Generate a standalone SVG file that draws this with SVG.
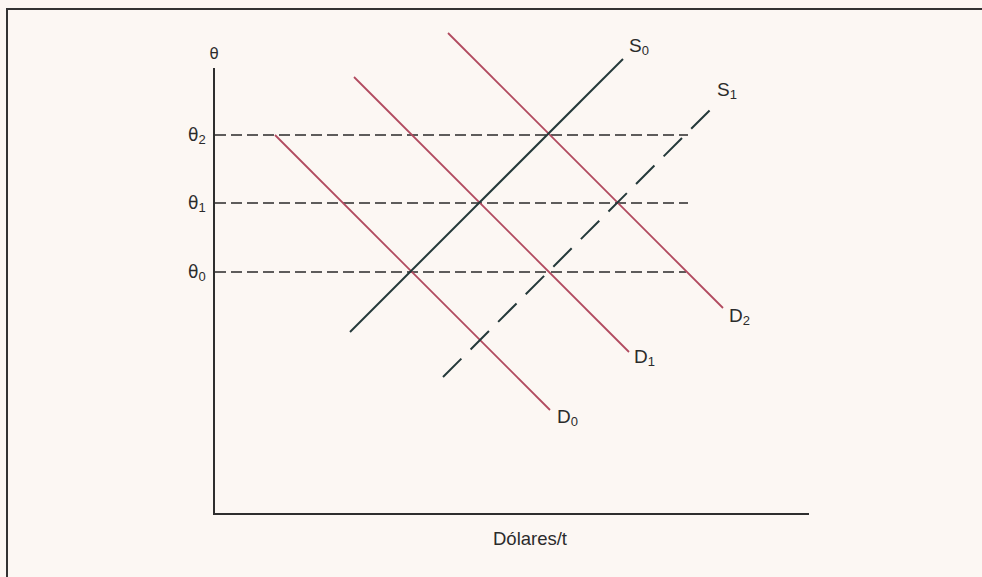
<svg xmlns="http://www.w3.org/2000/svg" width="982" height="577" viewBox="0 0 982 577">
<style>
.lbl{font-family:"Liberation Sans",Arial,sans-serif;font-size:19px;fill:#2b2b2b}
.th{font-family:"DejaVu Sans",sans-serif;font-size:17px;fill:#2b2b2b}
.sub{font-family:"Liberation Sans",Arial,sans-serif;font-size:13px}
.d{stroke:#b14a5f;stroke-width:1.8;fill:none}
.s{stroke:#24393a;stroke-width:2;fill:none}
.h{stroke:#2a2a2a;stroke-width:1.7;stroke-dasharray:11 5;fill:none}
.ax{stroke:#2e2e2e;stroke-width:2;fill:none}
</style>
<rect width="982" height="577" fill="#fcf7f3"/>
<path d="M7 577 V9 H982" stroke="#333" stroke-width="2" fill="none"/>
<g id="axes">
<path class="ax" d="M214 68 V514 H809"/>
<text class="th" x="214" y="59" text-anchor="middle" style="font-size:15px">θ</text>
<text class="lbl" x="530" y="545" text-anchor="middle" style="font-size:18.5px">Dólares/t</text>
</g>
<g id="theta-levels">
<text class="th" x="188" y="141">θ<tspan class="sub" dy="3">2</tspan></text>
<text class="th" x="188" y="209">θ<tspan class="sub" dy="3">1</tspan></text>
<text class="th" x="188" y="278">θ<tspan class="sub" dy="3">0</tspan></text>
</g>
<g id="connectors">
<line class="h" x1="215" y1="135" x2="688" y2="135"/>
<line class="h" x1="215" y1="203" x2="688" y2="203"/>
<line class="h" x1="215" y1="272" x2="686" y2="272"/>
</g>
<g id="D0">
<line class="d" x1="275" y1="135" x2="550" y2="410"/>
<text class="lbl" x="557" y="423">D<tspan class="sub" dy="3">0</tspan></text>
</g>
<g id="D1">
<line class="d" x1="354" y1="77" x2="629" y2="352"/>
<text class="lbl" x="634" y="363">D<tspan class="sub" dy="3">1</tspan></text>
</g>
<g id="D2">
<line class="d" x1="448" y1="33" x2="723" y2="308"/>
<text class="lbl" x="729" y="322">D<tspan class="sub" dy="3">2</tspan></text>
</g>
<g id="S0">
<line class="s" x1="350" y1="332" x2="623" y2="59"/>
<text class="lbl" x="629" y="52">S<tspan class="sub" dy="3">0</tspan></text>
</g>
<g id="S1">
<line class="s" x1="443" y1="377" x2="716" y2="104" stroke-dasharray="26 13"/>
<text class="lbl" x="717" y="96">S<tspan class="sub" dy="3">1</tspan></text>
</g>
</svg>
